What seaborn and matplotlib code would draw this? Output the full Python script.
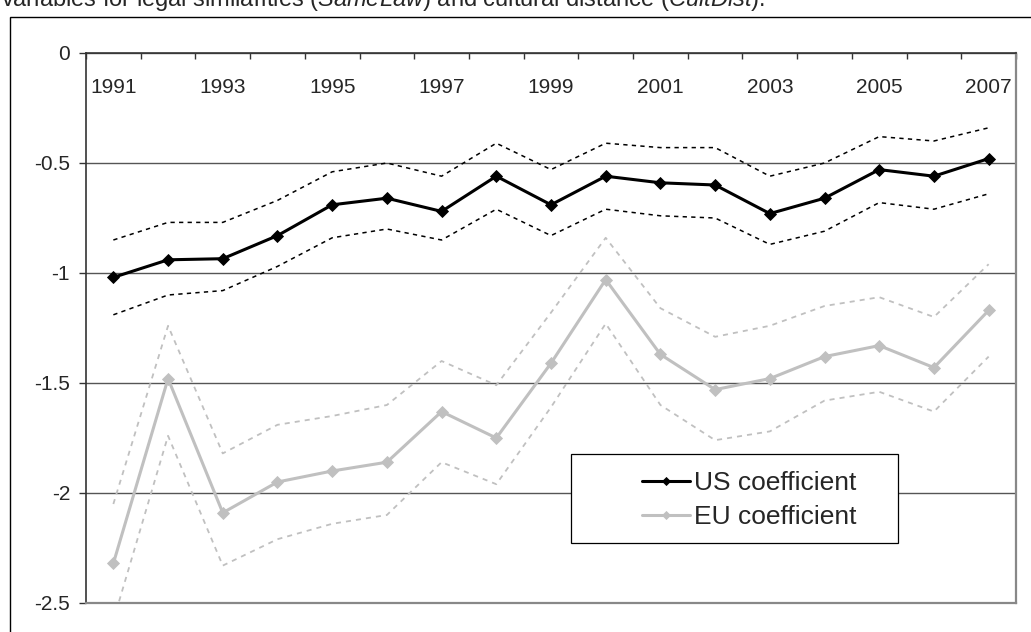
import matplotlib
matplotlib.use("Agg")
import matplotlib.pyplot as plt
import pandas as pd
import seaborn as sns
from matplotlib.patches import Rectangle
from matplotlib.ticker import FuncFormatter

# values
years = list(range(1991, 2008))
us_coef = [-1.02, -0.94, -0.935, -0.83, -0.69, -0.66, -0.72, -0.56, -0.69,
           -0.56, -0.59, -0.60, -0.73, -0.66, -0.53, -0.56, -0.48]
us_upper = [-0.85, -0.77, -0.77, -0.67, -0.54, -0.50, -0.56, -0.41, -0.53,
            -0.41, -0.43, -0.43, -0.56, -0.50, -0.38, -0.40, -0.34]
us_lower = [-1.19, -1.10, -1.08, -0.97, -0.84, -0.80, -0.85, -0.71, -0.83,
            -0.71, -0.74, -0.75, -0.87, -0.81, -0.68, -0.71, -0.64]
eu_coef = [-2.32, -1.48, -2.09, -1.95, -1.90, -1.86, -1.63, -1.75, -1.41,
           -1.03, -1.37, -1.53, -1.48, -1.38, -1.33, -1.43, -1.17]
eu_upper = [-2.05, -1.24, -1.82, -1.69, -1.65, -1.60, -1.40, -1.51, -1.18,
            -0.84, -1.16, -1.29, -1.24, -1.15, -1.11, -1.20, -0.96]
eu_lower = [-2.58, -1.74, -2.33, -2.21, -2.14, -2.10, -1.86, -1.96, -1.61,
            -1.23, -1.60, -1.76, -1.72, -1.58, -1.54, -1.63, -1.38]
y_ticks = [0, -0.5, -1, -1.5, -2, -2.5]
series_labels = ["US coefficient", "EU coefficient"]
caption = ("variables for legal similarities ($\\it{SameLaw}$) and "
           "cultural distance ($\\it{CultDist}$).")

sns.set_style("white")
plt.rcParams["font.family"] = ["Liberation Sans", "DejaVu Sans"]
plt.rcParams["axes.unicode_minus"] = False
plt.rcParams["mathtext.fontset"] = "custom"
plt.rcParams["mathtext.rm"] = "Liberation Sans"
plt.rcParams["mathtext.it"] = "Liberation Sans:italic"

df = pd.DataFrame({
    "year": years,
    "us": us_coef, "us_hi": us_upper, "us_lo": us_lower,
    "eu": eu_coef, "eu_hi": eu_upper, "eu_lo": eu_lower,
})

W, H = 1031, 632
fig = plt.figure(figsize=(W / 100, H / 100), dpi=100)
ax = fig.add_axes([86 / W, 29 / H, 930 / W, 550 / H])

dash = (0, (2.8, 2.8))
black, silver = "black", "#c0c0c0"

# confidence bands (dotted)
for col, c, lw in [("us_hi", black, 1.1), ("us_lo", black, 1.1),
                   ("eu_hi", silver, 1.3), ("eu_lo", silver, 1.3)]:
    sns.lineplot(data=df, x="year", y=col, ax=ax, color=c, lw=lw, linestyle=dash)

# point estimates
sns.lineplot(data=df, x="year", y="us", ax=ax, color=black, lw=2.2,
             marker="D", markersize=6, markeredgecolor=black, markeredgewidth=0.6,
             label=series_labels[0])
sns.lineplot(data=df, x="year", y="eu", ax=ax, color=silver, lw=2.2,
             marker="D", markersize=6, markeredgecolor=silver, markeredgewidth=0.6,
             label=series_labels[1])

ax.set_xlim(years[0] - 0.5, years[-1] + 0.5)
ax.set_ylim(y_ticks[-1], y_ticks[0])
ax.set_xlabel("")
ax.set_ylabel("")

# category axis drawn at the top (y = 0), labels hang inside the plot
ax.xaxis.set_ticks_position("top")
ax.set_xticks([y - 0.5 for y in years] + [years[-1] + 0.5])
ax.set_xticks(years[::2], labels=[str(y) for y in years[::2]], minor=True)
ax.tick_params(axis="x", which="major", direction="in", length=4.5, width=1,
               color="#333333", top=True, bottom=False,
               labeltop=False, labelbottom=False)
ax.tick_params(axis="x", which="minor", direction="in", length=0,
               top=True, bottom=False, labeltop=True, labelbottom=False,
               pad=-31.5, labelsize=15)

ax.set_yticks(y_ticks)
ax.yaxis.set_major_formatter(FuncFormatter(lambda v, p: f"{v:g}"))
ax.tick_params(axis="y", which="major", direction="out", length=5, width=1,
               color="#333333", left=True, pad=6.5, labelsize=15)

ax.grid(axis="y", color="#555555", lw=1)
ax.set_axisbelow(True)
for side in ("top", "left"):
    ax.spines[side].set_color("#333333")
    ax.spines[side].set_linewidth(1.2)
for side in ("right", "bottom"):
    ax.spines[side].set_color("#888888")
    ax.spines[side].set_linewidth(1.6)

# legend: white box with a single frame, entries set to the right
ax.add_patch(Rectangle((0.5215, 0.109), 0.3516, 0.1618, transform=ax.transAxes,
                       facecolor="white", edgecolor="black", lw=0.9, zorder=3))
handles, labels = ax.get_legend_handles_labels()
leg = ax.legend(handles, labels, loc="center left", bbox_to_anchor=(0.598, 0.187),
                frameon=False, fontsize=19, handlelength=1.82, handletextpad=0.15,
                labelspacing=0.38, borderpad=0, borderaxespad=0, markerscale=0.75)
leg.set_zorder(5)

# outer chart frame and the clipped caption line above it
fig.add_artist(Rectangle((10 / W, -0.2), 1.5, 1.2 - 17 / H, transform=fig.transFigure,
                         fill=False, edgecolor="black", lw=1.0))
fig.text(1 / W, 1 - 6 / H, caption, fontsize=17, ha="left", va="baseline")

fig.savefig("out.png", dpi=100)
